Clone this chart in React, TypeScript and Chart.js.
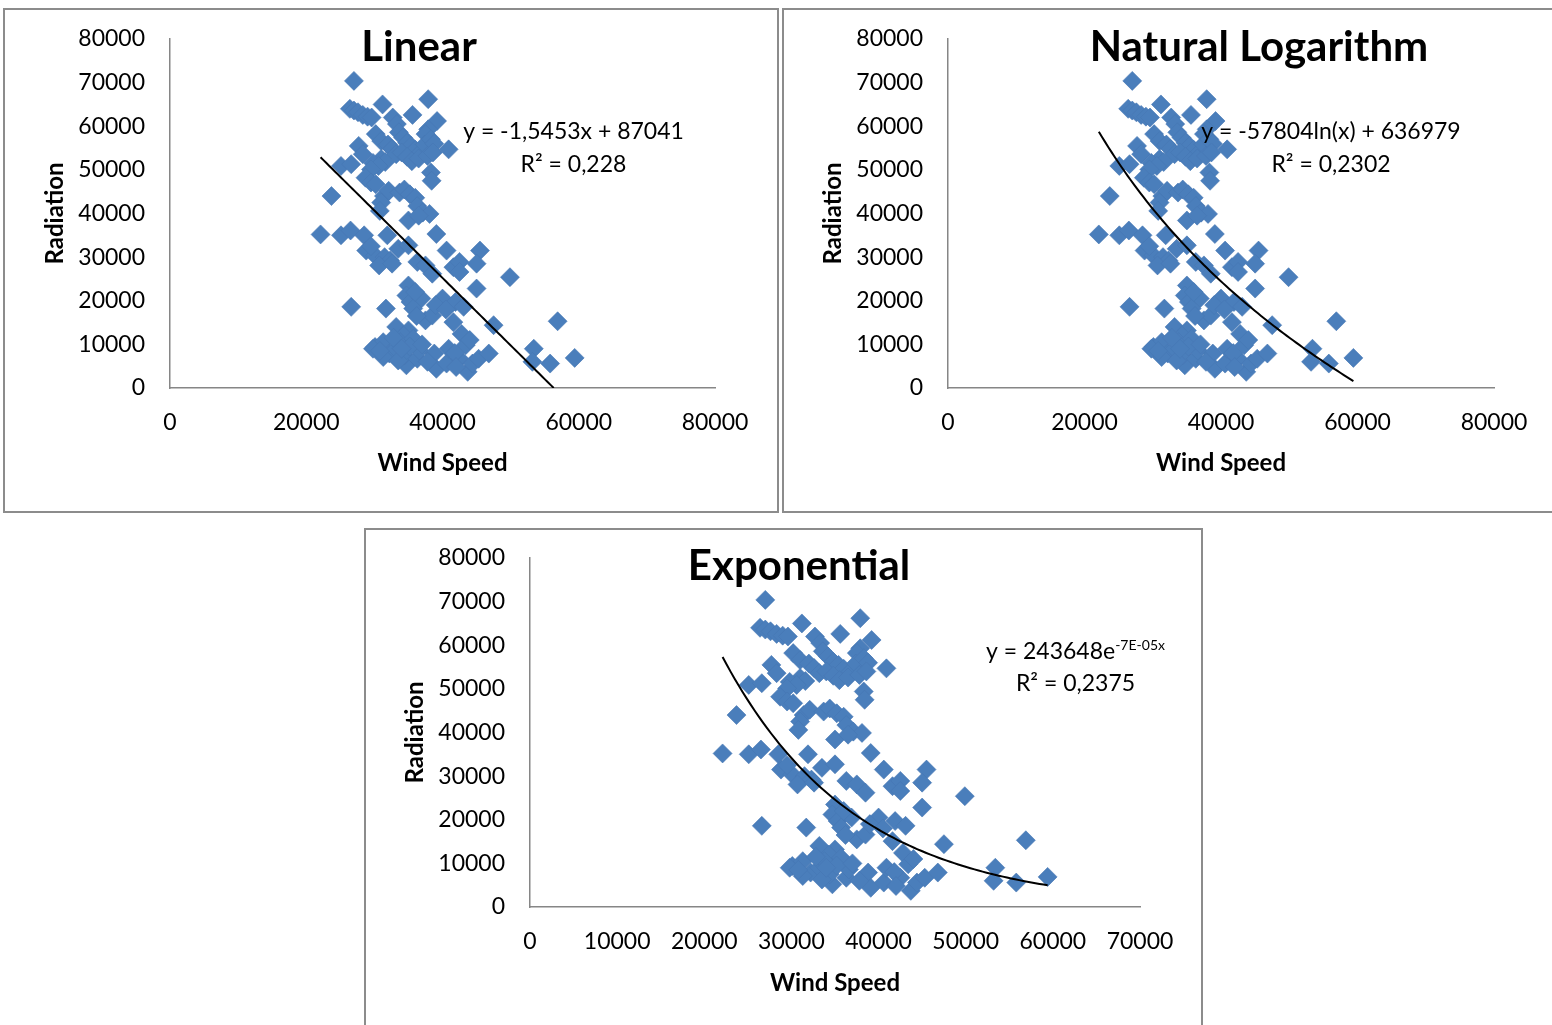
import React, { useEffect, useRef } from "react";
import { Chart, registerables } from "chart.js";

Chart.register(...registerables);

// ---------- data ----------
const windSpeed = [
  27000, 37900, 31200, 26400, 27000, 27600, 28300, 29000, 29600, 32700,
  35600, 39200, 33300, 37900, 37500, 30200, 31000, 33600, 34200, 34800,
  35400, 36000, 36800, 37400, 38300, 38800, 32000, 32600, 33200, 34000,
  34800, 35500, 36500, 37800, 38600, 31000, 31600, 40900, 27700, 28300,
  25100, 26600, 29800, 30600, 29500, 28700, 29500, 30200, 38300, 38400,
  23700, 31400, 32100, 31000, 33700, 34400, 35200, 36000, 36300, 37100,
  38100, 30800, 35000, 36500,
  22100, 25100, 26500, 28500, 31900, 39100, 28800, 30100, 33500, 35000,
  29500, 31500, 32300, 40600, 45500, 30700, 32600, 36300, 37500, 38500,
  41600, 42500, 42500, 45000, 49900, 45000,
  26600, 31700, 35000, 34700, 35300, 36900, 35700, 37500, 38500, 40000,
  41900, 43100, 41600, 47500, 56900, 33200, 35000, 42800, 36000, 39000,
  40500, 36200, 34300,
  30100, 31300, 32200, 33200, 34700, 34400, 36300, 36600, 38800, 39100,
  40600, 40900, 42500, 43400, 43700, 44400, 45300, 46800, 53400, 53200,
  55800, 59400, 31300, 33800, 35700, 29800, 32800, 33500, 35200, 37000,
  37800, 41800, 42000, 44000, 30800, 34000,
];

const radiation = [
  70400, 66200, 65000, 64000, 63600, 63200, 62600, 62200, 62000, 62000,
  62600, 61200, 60500, 59300, 58200, 58200, 56600, 58600, 57400, 56200,
  55500, 54600, 54000, 55800, 57000, 56000, 55800, 54800, 53600, 54000,
  53000, 52000, 52600, 53200, 54000, 52500, 51800, 54700, 55500, 53600,
  50900, 51300, 51600, 50900, 50100, 48200, 47100, 46700, 49400, 47500,
  44000, 44000, 45200, 42500, 44800, 45500, 44400, 43600, 41700, 40200,
  39900, 40600, 38400, 39500,
  35200, 35000, 36100, 35000, 35000, 35300, 31500, 30400, 31900, 32700,
  32500, 30000, 29200, 31500, 31500, 28100, 28500, 28900, 28100, 26200,
  27700, 28900, 26600, 28500, 25400, 22800,
  18600, 18200, 23500, 21200, 19700, 20500, 18200, 15500, 16600, 20500,
  19700, 18600, 15100, 14400, 15300, 14000, 13200, 12400, 22000, 19000,
  18000, 16500, 12000,
  9400, 10500, 7900, 9000, 5200, 7500, 6700, 8600, 7900, 4400,
  5600, 9000, 6700, 9800, 3700, 5600, 6700, 7900, 9000, 6000,
  5600, 6900, 7100, 10500, 11300, 9000, 11500, 6300, 9500, 10000,
  6000, 8000, 4800, 11000, 8500, 9000,
];

const panelTitles = ["Linear", "Natural Logarithm", "Exponential"];
const xAxisTitle = "Wind Speed";
const yAxisTitle = "Radiation";

const radiationMax = 80000;
const radiationStep = 10000;
const windMaxWide = 80000;
const windStepWide = 20000;
const windMaxExp = 70000;
const windStepExp = 10000;

// trendline coefficients (from the labels)
const linearSlope = -1.5453;
const linearIntercept = 87041;
const logSlope = -57804;
const logIntercept = 636979;
const expFactor = 243648;
const expRate = -6.55e-5;

const equationLinear = ["y = -1,5453x + 87041", "R² = 0,228"];
const equationLog = ["y = -57804ln(x) + 636979", "R² = 0,2302"];
const equationExpBase = "y = 243648e";
const equationExpSup = "-7E-05x";
const equationExpR2 = "R² = 0,2375";

// ---------- styling ----------
const FONT = '"Lato", "Liberation Sans", sans-serif';
const POINT_COLOR = "#4a7ebb";
const AXIS_COLOR = "#868686";

type Kind = "linear" | "log" | "exp";

function trendPoints(kind: Kind) {
  const xMin = Math.min(...windSpeed);
  let xEnd = Math.max(...windSpeed);
  if (kind === "linear") xEnd = Math.min(xEnd, -linearIntercept / linearSlope);
  const n = 80;
  const pts: { x: number; y: number }[] = [];
  for (let i = 0; i <= n; i++) {
    const x = xMin + ((xEnd - xMin) * i) / n;
    let y: number;
    if (kind === "linear") y = linearSlope * x + linearIntercept;
    else if (kind === "log") y = logSlope * Math.log(x) + logIntercept;
    else y = expFactor * Math.exp(expRate * x);
    pts.push({ x, y });
  }
  return pts;
}

type Part = { text: string; sup?: boolean };

type Spec = {
  kind: Kind;
  title: string;
  box: { left: number; top: number; width: number; height: number };
  plot: { left: number; top: number; right: number; bottom: number };
  xMax: number;
  xStep: number;
  titleX: number;
  titleBaseline: number;
  yTitleX: number;
  xTitleY: number;
  eqX: number;
  eqBaselines: number[];
  eqLines: Part[][];
};

const specs: Spec[] = [
  {
    kind: "linear",
    title: panelTitles[0],
    box: { left: 3, top: 8, width: 776, height: 505 },
    plot: { left: 170, top: 39, right: 715, bottom: 388 },
    xMax: windMaxWide,
    xStep: windStepWide,
    titleX: 419,
    titleBaseline: 61,
    yTitleX: 55,
    xTitleY: 463,
    eqX: 573.5,
    eqBaselines: [139, 172],
    eqLines: [[{ text: equationLinear[0] }], [{ text: equationLinear[1] }]],
  },
  {
    kind: "log",
    title: panelTitles[1],
    box: { left: 782, top: 8, width: 776, height: 505 },
    plot: { left: 948, top: 39, right: 1494, bottom: 388 },
    xMax: windMaxWide,
    xStep: windStepWide,
    titleX: 1259,
    titleBaseline: 61,
    yTitleX: 833,
    xTitleY: 463,
    eqX: 1331,
    eqBaselines: [139, 172],
    eqLines: [[{ text: equationLog[0] }], [{ text: equationLog[1] }]],
  },
  {
    kind: "exp",
    title: panelTitles[2],
    box: { left: 364, top: 528, width: 839, height: 505 },
    plot: { left: 530, top: 558, right: 1140, bottom: 907 },
    xMax: windMaxExp,
    xStep: windStepExp,
    titleX: 799,
    titleBaseline: 580,
    yTitleX: 415,
    xTitleY: 983,
    eqX: 1075.5,
    eqBaselines: [659, 691],
    eqLines: [
      [{ text: equationExpBase }, { text: equationExpSup, sup: true }],
      [{ text: equationExpR2 }],
    ],
  },
];

const TITLE_SIZE = 42;
const EQ_SIZE = 23;
const SUP_SIZE = 14;

function labelPlugin(spec: Spec) {
  return {
    id: "panelLabels" + spec.kind,
    afterDraw(chart: any) {
      const ctx: CanvasRenderingContext2D = chart.ctx;
      const ox = spec.box.left;
      const oy = spec.box.top;
      ctx.save();
      ctx.fillStyle = "#000";
      ctx.textBaseline = "alphabetic";
      ctx.textAlign = "center";
      ctx.font = `bold ${TITLE_SIZE}px ${FONT}`;
      ctx.fillText(spec.title, spec.titleX - ox, spec.titleBaseline - oy);

      ctx.textAlign = "left";
      spec.eqLines.forEach((parts, li) => {
        const widths = parts.map((p) => {
          ctx.font = `${p.sup ? SUP_SIZE : EQ_SIZE}px ${FONT}`;
          return ctx.measureText(p.text).width;
        });
        const total = widths.reduce((a, b) => a + b, 0);
        let x = spec.eqX - ox - total / 2;
        const base = spec.eqBaselines[li] - oy;
        parts.forEach((p, i) => {
          ctx.font = `${p.sup ? SUP_SIZE : EQ_SIZE}px ${FONT}`;
          ctx.fillText(p.text, x, p.sup ? base - 9 : base);
          x += widths[i];
        });
      });
      ctx.restore();
    },
  };
}

function Panel({ spec }: { spec: Spec }) {
  const ref = useRef<HTMLCanvasElement>(null);
  useEffect(() => {
    const canvas = ref.current;
    if (!canvas) return;
    const { box, plot } = spec;
    const W = box.width;
    const H = box.height;
    const pl = plot.left - box.left;
    const pt = plot.top - box.top;
    const pr = plot.right - box.left;
    const pb = plot.bottom - box.top;
    const tickSize = 23;
    const tickLH = tickSize * 1.2;
    const titleSize = 24;
    const titleLH = titleSize * 1.2;
    const yTitlePadTop = spec.yTitleX - box.left - titleLH / 2;
    const xTitlePadBottom = H - (spec.xTitleY - box.top) - titleLH / 2;
    const hiddenGrid = (len: number) => ({
      display: true,
      drawOnChartArea: false,
      drawTicks: true,
      tickLength: len,
      color: "rgba(0,0,0,0)",
    });

    const points = windSpeed.map((x, i) => ({ x, y: radiation[i] }));

    const chart = new Chart(canvas, {
      type: "scatter",
      data: {
        datasets: [
          {
            data: trendPoints(spec.kind),
            showLine: true,
            borderColor: "#000",
            borderWidth: 2,
            pointRadius: 0,
            pointHoverRadius: 0,
            fill: false,
          } as any,
          {
            data: points,
            pointStyle: "rectRot",
            pointRadius: 9.5,
            pointHoverRadius: 9.5,
            backgroundColor: POINT_COLOR,
            borderColor: "#4677b3",
            borderWidth: 0.6,
            showLine: false,
          } as any,
        ],
      },
      options: {
        responsive: false,
        animation: false,
        devicePixelRatio: 1,
        events: [],
        layout: { padding: { left: 0, top: pt, right: W - pr, bottom: 0 } },
        plugins: {
          legend: { display: false },
          tooltip: { enabled: false },
          title: { display: false },
        },
        scales: {
          x: {
            type: "linear",
            min: 0,
            max: spec.xMax,
            grid: hiddenGrid(35 - tickLH / 2),
            border: { display: true, color: AXIS_COLOR, width: 1.5 },
            ticks: {
              stepSize: spec.xStep,
              padding: 0,
              color: "#000",
              font: { family: FONT, size: tickSize },
              maxRotation: 0,
              autoSkip: false,
              callback: (v: any) => String(v),
            },
            title: {
              display: true,
              text: xAxisTitle,
              color: "#000",
              font: { family: FONT, size: titleSize, weight: "bold" },
              padding: { top: 0, bottom: xTitlePadBottom },
            },
            afterFit: (s: any) => {
              s.height = H - pb;
            },
          },
          y: {
            type: "linear",
            min: 0,
            max: radiationMax,
            grid: hiddenGrid(25),
            border: { display: true, color: AXIS_COLOR, width: 1.5 },
            ticks: {
              stepSize: radiationStep,
              padding: 0,
              color: "#000",
              font: { family: FONT, size: tickSize },
              autoSkip: false,
              callback: (v: any) => String(v),
            },
            title: {
              display: true,
              text: yAxisTitle,
              color: "#000",
              font: { family: FONT, size: titleSize, weight: "bold" },
              padding: { top: yTitlePadTop, bottom: 0 },
            },
            afterFit: (s: any) => {
              s.width = pl;
            },
          },
        },
      } as any,
      plugins: [labelPlugin(spec)],
    });
    return () => chart.destroy();
  }, [spec]);

  const { box } = spec;
  return (
    <>
      <canvas
        ref={ref}
        width={box.width}
        height={box.height}
        style={{
          position: "absolute",
          left: box.left,
          top: box.top,
          width: box.width,
          height: box.height,
        }}
      />
      <div
        style={{
          position: "absolute",
          left: box.left,
          top: box.top,
          width: box.width,
          height: box.height,
          border: "2px solid #8c8c8c",
          boxSizing: "border-box",
          pointerEvents: "none",
        }}
      />
    </>
  );
}

export default function App() {
  return (
    <div
      style={{
        position: "absolute",
        left: 0,
        top: 0,
        width: 1552,
        height: 1025,
        overflow: "hidden",
        background: "#fff",
      }}
    >
      {specs.map((s) => (
        <Panel key={s.kind} spec={s} />
      ))}
    </div>
  );
}
